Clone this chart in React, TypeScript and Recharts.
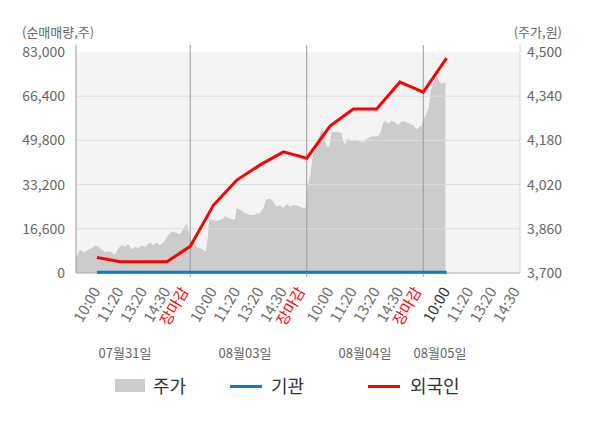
import React from 'react';
import { ComposedChart, Area, Line, XAxis, YAxis, ReferenceLine } from 'recharts';

// ---- data ----
const tickPositions = [1, 2, 3, 4, 5, 6, 7, 8, 9, 10, 11, 12, 13, 14, 15, 16, 17, 18, 19];
const tickLabels = [
  '10:00', '11:20', '13:20', '14:30', '장마감',
  '10:00', '11:20', '13:20', '14:30', '장마감',
  '10:00', '11:20', '13:20', '14:30', '장마감',
  '10:00', '11:20', '13:20', '14:30',
];
const dayBoundaries = [5, 10, 15];
const dateLabels = ['07월31일', '08월03일', '08월04일', '08월05일'];
const leftTicks = [0, 16600, 33200, 49800, 66400, 83000];
const rightTicks = [3700, 3860, 4020, 4180, 4340, 4500];

const priceX = [
  0.10, 0.27, 0.34, 0.49, 0.63, 0.77, 0.92, 1.06, 1.20, 1.34, 1.49, 1.63, 1.77, 1.91, 2.06, 2.20, 2.34, 2.49, 2.63, 2.77,
  2.92, 3.06, 3.27, 3.42, 3.56, 3.70, 3.85, 3.99, 4.13, 4.27, 4.42, 4.56, 4.70, 4.85, 4.92,
  5.03, 5.13, 5.28, 5.42, 5.56, 5.66, 5.75, 5.81, 5.92, 6.06, 6.20, 6.35, 6.49, 6.63, 6.78, 6.92, 6.99, 7.14, 7.28, 7.42,
  7.56, 7.71, 7.85, 7.99, 8.14, 8.25, 8.42, 8.56, 8.71, 8.85, 8.99, 9.14, 9.28, 9.42, 9.57, 9.71, 9.84, 9.95,
  10.01, 10.14, 10.25, 10.35, 10.48, 10.60, 10.68, 10.78, 10.88, 10.97, 11.07, 11.21, 11.35, 11.50, 11.57, 11.64, 11.78, 11.85, 12.00, 12.14,
  12.28, 12.50, 12.57, 12.64, 12.79, 12.93, 13.07, 13.17, 13.28, 13.40, 13.50, 13.64, 13.78, 13.93, 14.00, 14.14, 14.29, 14.43, 14.57, 14.72,
  14.86, 14.94,
  15.00, 15.07, 15.24, 15.32, 15.42, 15.50, 15.57, 15.64, 15.72, 15.79, 15.90, 15.95,
];
const priceValues = [
  3755, 3785, 3780, 3775, 3785, 3790, 3800, 3795, 3785, 3775, 3780, 3775, 3765, 3790, 3800, 3795, 3805, 3785, 3795, 3790,
  3800, 3795, 3810, 3800, 3810, 3800, 3810, 3830, 3845, 3850, 3845, 3840, 3860, 3880, 3855,
  3820, 3810, 3795, 3790, 3785, 3775, 3825, 3890, 3895, 3890, 3890, 3895, 3905, 3900, 3895, 3895, 3935, 3930, 3920, 3915,
  3910, 3910, 3915, 3915, 3935, 3965, 3970, 3960, 3940, 3945, 3935, 3950, 3940, 3945, 3945, 3940, 3935, 3935,
  4000, 4050, 4120, 4145, 4180, 4210, 4220, 4180, 4155, 4160, 4210, 4210, 4210, 4205, 4175, 4165, 4190, 4180, 4180, 4180,
  4175, 4175, 4185, 4190, 4195, 4195, 4195, 4210, 4245, 4250, 4240, 4250, 4245, 4235, 4245, 4250, 4245, 4240, 4235, 4220,
  4230, 4235,
  4255, 4265, 4300, 4360, 4385, 4405, 4415, 4400, 4390, 4385, 4390, 4390,
];

const flowX = [1, 2, 3, 4, 5, 6, 7, 8, 9, 10, 11, 12, 13, 14, 15, 16];
const foreignValues = [5800, 4200, 4200, 4200, 10000, 25500, 34900, 40600, 45500, 43100, 55200, 61600, 61600, 71700, 67900, 80700];
const institutionValues = [300, 300, 300, 300, 300, 300, 300, 300, 300, 300, 300, 300, 300, 300, 300, 300];

const bgX = [0.1, 19.15];
const bgValues = [83000, 83000];
const baseValues = [0, 0];

// ---- derived tables ----
const priceData = priceX.map((x, i) => ({ x, price: priceValues[i] }));
const foreignData = flowX.map((x, i) => ({ x, v: foreignValues[i] }));
const instData = flowX.map((x, i) => ({ x, v: institutionValues[i] }));
const bgData = bgX.map((x, i) => ({ x, bg: bgValues[i] }));
const baseData = bgX.map((x, i) => ({ x, v: baseValues[i] }));

const FONT = '"Noto Sans CJK KR", "Noto Sans", sans-serif';

const XTick = (props: any) => {
  const { x, y, payload } = props;
  const k = payload.value as number;
  const label = tickLabels[k - 1];
  const isClose = label === '장마감';
  const color = isClose ? '#ff0000' : k === 16 ? '#333333' : '#707070';
  const ax = x + (isClose ? -1 : 4);
  const ay = y + 18;
  return (
    <g>
      {isClose && <line x1={x} x2={x} y1={y} y2={y + 4} stroke="#999999" strokeWidth={1} />}
      <text
        x={ax}
        y={ay}
        textAnchor="end"
        fill={color}
        fontSize={15}
        fontFamily={FONT}
        transform={`rotate(-60, ${ax}, ${ay})`}
      >
        {label}
      </text>
    </g>
  );
};

const fmt = (v: number) => v.toLocaleString('en-US');

export default function App() {
  return (
    <div style={{ position: 'absolute', left: 0, top: 0, width: 600, height: 428, fontFamily: FONT, background: '#fff' }}>
      <ComposedChart width={600} height={428} margin={{ top: 45, right: 0, bottom: 0, left: 0 }}>
        <XAxis
          xAxisId="x"
          type="number"
          dataKey="x"
          domain={[0.1, 19.15]}
          ticks={tickPositions}
          interval={0}
          tick={<XTick />}
          tickLine={false}
          tickSize={0}
          tickMargin={0}
          height={155}
          axisLine={false}
        />
        <YAxis
          yAxisId="left"
          orientation="left"
          type="number"
          width={76}
          domain={[0, 85630]}
          ticks={leftTicks}
          interval={0}
          tickFormatter={fmt}
          tickLine={false}
          tickSize={0}
          tickMargin={11}
          axisLine={{ stroke: '#999999' }}
          tick={{ fill: '#666666', fontSize: 14, fontFamily: FONT }}
        />
        <YAxis
          yAxisId="right"
          orientation="right"
          type="number"
          width={80}
          domain={[3700, 4525.3]}
          ticks={rightTicks}
          interval={0}
          tickFormatter={fmt}
          tickLine={false}
          tickSize={0}
          tickMargin={7}
          axisLine={{ stroke: '#d6d6d6' }}
          tick={{ fill: '#666666', fontSize: 14, fontFamily: FONT, textAnchor: 'start' }}
        />
        <Area
          data={bgData}
          xAxisId="x"
          yAxisId="left"
          dataKey="bg"
          type="linear"
          stroke="none"
          fill="#f4f4f4"
          fillOpacity={1}
          isAnimationActive={false}
          dot={false}
          activeDot={false}
        />
        <Area
          data={priceData}
          xAxisId="x"
          yAxisId="right"
          dataKey="price"
          type="linear"
          stroke="none"
          fill="#cccccc"
          fillOpacity={1}
          baseValue={3700}
          isAnimationActive={false}
          dot={false}
          activeDot={false}
        />
        {leftTicks.slice(1, 5).map((t) => (
          <ReferenceLine key={'h' + t} xAxisId="x" yAxisId="left" y={t} stroke="#dddddd" strokeWidth={1} />
        ))}
        {dayBoundaries.map((d) => (
          <ReferenceLine key={'v' + d} xAxisId="x" yAxisId="left" x={d} stroke="#999999" strokeWidth={1} />
        ))}
        <Line
          data={baseData}
          xAxisId="x"
          yAxisId="left"
          dataKey="v"
          type="linear"
          stroke="#aaaaaa"
          strokeWidth={1}
          dot={false}
          activeDot={false}
          isAnimationActive={false}
        />
        <Line
          data={instData}
          xAxisId="x"
          yAxisId="left"
          dataKey="v"
          type="linear"
          stroke="#0a7ccc"
          strokeWidth={3}
          dot={false}
          activeDot={false}
          isAnimationActive={false}
        />
        <Line
          data={foreignData}
          xAxisId="x"
          yAxisId="left"
          dataKey="v"
          type="linear"
          stroke="#ff0000"
          strokeWidth={3}
          dot={false}
          activeDot={false}
          isAnimationActive={false}
        />
      </ComposedChart>

      <div style={{ position: 'absolute', left: 22, top: 25, fontSize: 13, lineHeight: '13px', color: '#666', whiteSpace: 'nowrap' }}>
        (순매매량,주)
      </div>
      <div style={{ position: 'absolute', right: 38, top: 25, fontSize: 13, lineHeight: '13px', color: '#666', whiteSpace: 'nowrap' }}>
        (주가,원)
      </div>

      {dateLabels.map((d, i) => (
        <div
          key={d}
          style={{
            position: 'absolute',
            left: [125, 245, 365, 440][i],
            top: 345,
            transform: 'translateX(-50%)',
            fontSize: 13,
            lineHeight: '16px',
            color: '#666',
            whiteSpace: 'nowrap',
          }}
        >
          {d}
        </div>
      ))}

      <div style={{ position: 'absolute', left: 115, top: 379, width: 30, height: 13, background: '#cccccc' }} />
      <div style={{ position: 'absolute', left: 153, top: 373, fontSize: 18, lineHeight: '24px', color: '#333' }}>주가</div>
      <div style={{ position: 'absolute', left: 230, top: 385, width: 32, height: 3, background: '#0a7ccc' }} />
      <div style={{ position: 'absolute', left: 271, top: 373, fontSize: 18, lineHeight: '24px', color: '#333' }}>기관</div>
      <div style={{ position: 'absolute', left: 368, top: 385, width: 32, height: 3, background: '#ff0000' }} />
      <div style={{ position: 'absolute', left: 410, top: 373, fontSize: 18, lineHeight: '24px', color: '#333' }}>외국인</div>
    </div>
  );
}
